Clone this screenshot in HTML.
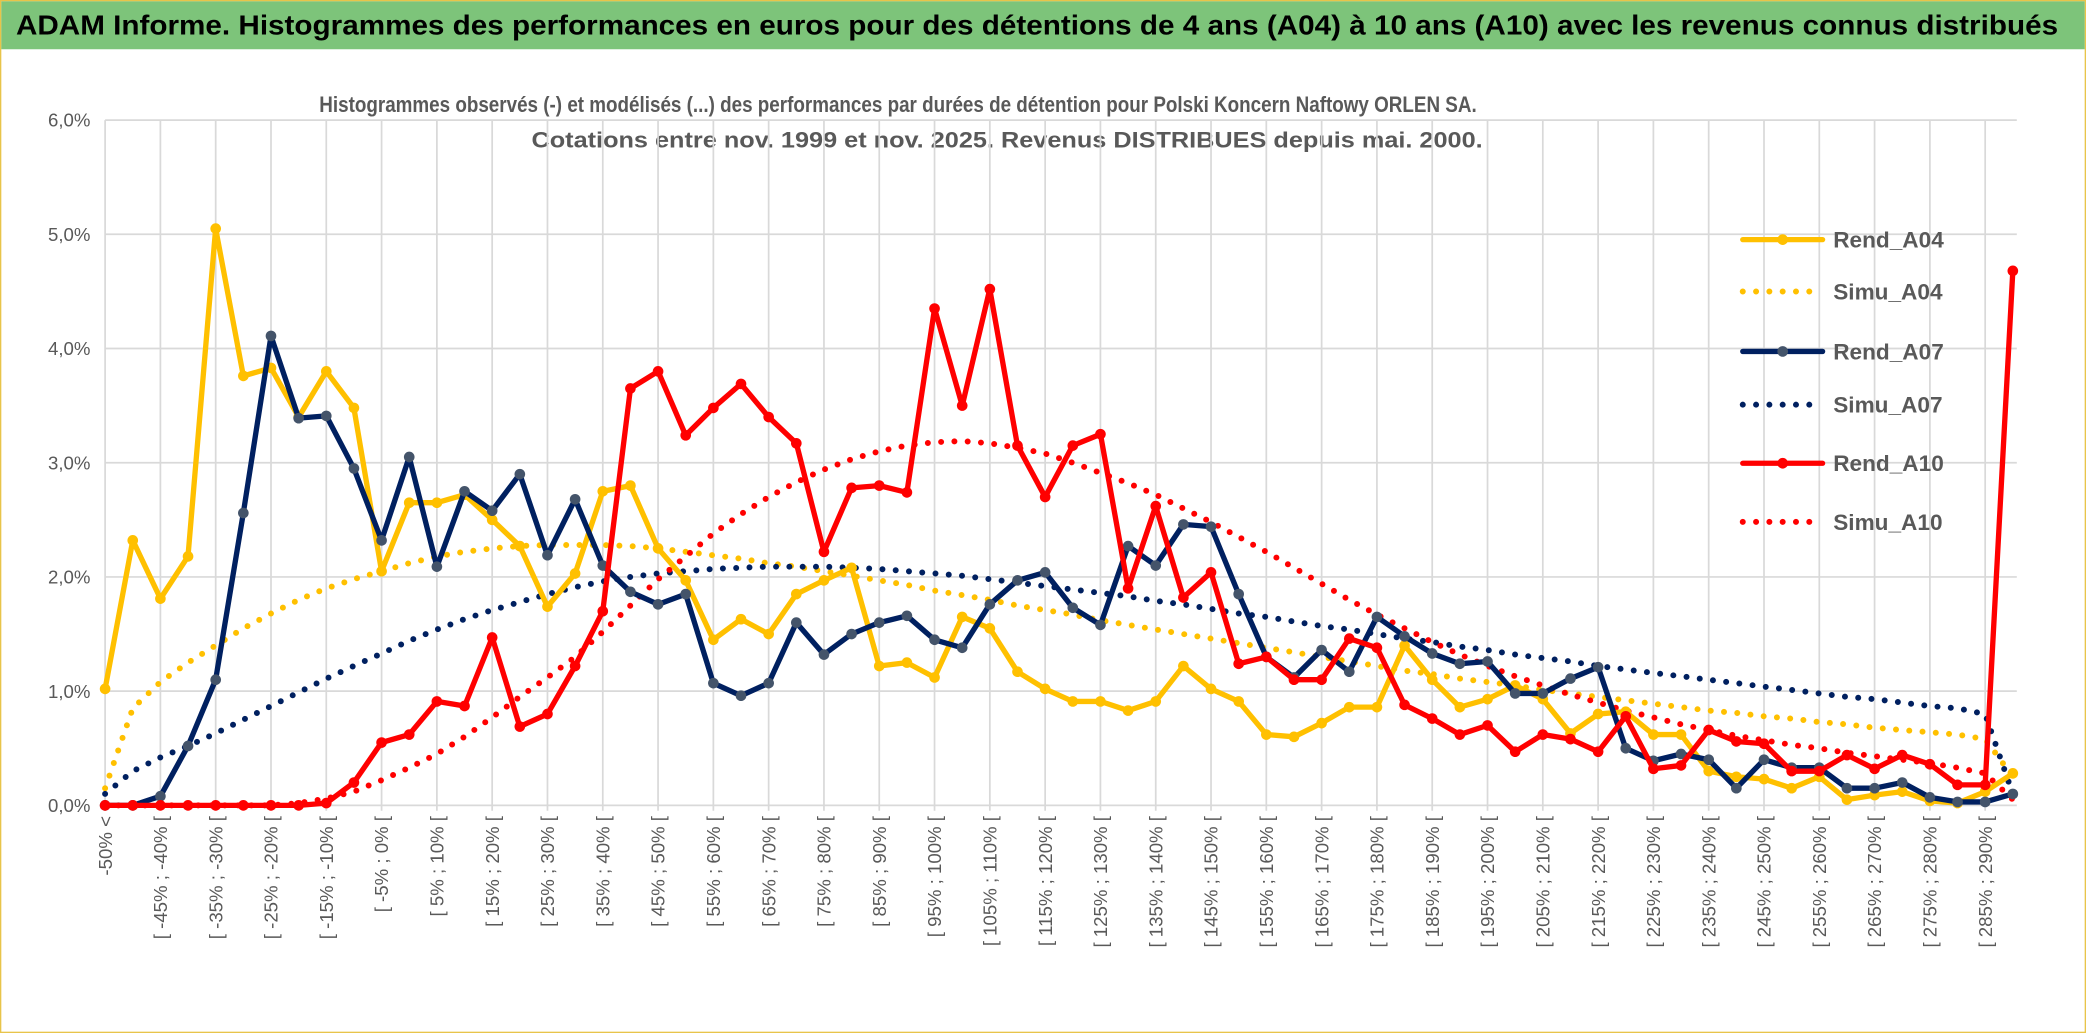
<!DOCTYPE html>
<html><head><meta charset="utf-8">
<style>
html,body{margin:0;padding:0;background:#fff;}
svg{display:block;font-family:"Liberation Sans",sans-serif;}
</style></head>
<body>
<svg id="chart" width="2086" height="1033" viewBox="0 0 1568 776" preserveAspectRatio="none" xmlns="http://www.w3.org/2000/svg">
<rect x="0" y="0" width="1568" height="776" fill="#fff" stroke="#e8c44a" stroke-width="2"/>
<rect x="1" y="1" width="1566" height="36" fill="#7dc47a"/>
<text x="12" y="26" font-size="21" font-weight="bold" fill="#000" textLength="1535" lengthAdjust="spacingAndGlyphs">ADAM Informe. Histogrammes des performances en euros pour des détentions de 4 ans (A04) à 10 ans (A10) avec les revenus connus distribués</text>
<text x="675" y="84" font-size="17" font-weight="bold" fill="#595959" text-anchor="middle" textLength="870" lengthAdjust="spacingAndGlyphs">Histogrammes observés (-) et modélisés (...) des performances par durées de détention pour Polski Koncern Naftowy ORLEN SA.</text>
<text x="757" y="111" font-size="17" font-weight="bold" fill="#595959" text-anchor="middle" textLength="715" lengthAdjust="spacingAndGlyphs">Cotations entre nov. 1999 et nov. 2025. Revenus DISTRIBUES depuis mai. 2000.</text>
<g id="grid"></g><g id="axes"></g><g id="series"></g><g id="legend"></g>
</svg>
<script>
const yTicks = ["0,0%","1,0%","2,0%","3,0%","4,0%","5,0%","6,0%"];
const rendA04 = [1.02,2.32,1.81,2.18,5.05,3.76,3.83,3.40,3.80,3.48,2.05,2.65,2.65,2.72,2.50,2.27,1.74,2.03,2.75,2.80,2.25,1.97,1.45,1.63,1.50,1.85,1.97,2.08,1.22,1.25,1.12,1.65,1.55,1.17,1.02,0.91,0.91,0.83,0.91,1.22,1.02,0.91,0.62,0.60,0.72,0.86,0.86,1.40,1.10,0.86,0.93,1.05,0.93,0.63,0.80,0.82,0.62,0.62,0.30,0.25,0.23,0.15,0.25,0.05,0.09,0.12,0.04,0.02,0.12,0.28];
const simuA04 = [0.15,0.85,1.08,1.25,1.40,1.55,1.68,1.80,1.90,1.98,2.05,2.12,2.18,2.22,2.25,2.27,2.28,2.28,2.28,2.27,2.25,2.22,2.19,2.16,2.12,2.09,2.05,2.01,1.97,1.93,1.88,1.84,1.80,1.75,1.71,1.67,1.62,1.58,1.54,1.50,1.46,1.42,1.38,1.34,1.30,1.26,1.22,1.18,1.15,1.11,1.08,1.05,1.01,0.98,0.95,0.92,0.89,0.86,0.83,0.81,0.78,0.76,0.73,0.71,0.68,0.66,0.64,0.62,0.58,0.25];
const rendA07 = [0,0,0.08,0.52,1.10,2.56,4.11,3.39,3.41,2.95,2.32,3.05,2.09,2.75,2.58,2.90,2.19,2.68,2.10,1.87,1.76,1.85,1.07,0.96,1.07,1.60,1.32,1.50,1.60,1.66,1.45,1.38,1.76,1.97,2.04,1.73,1.58,2.27,2.10,2.46,2.44,1.85,1.30,1.12,1.36,1.17,1.65,1.48,1.33,1.24,1.26,0.98,0.98,1.11,1.21,0.50,0.39,0.45,0.40,0.15,0.40,0.33,0.33,0.15,0.15,0.20,0.07,0.03,0.03,0.10];
const simuA07 = [0.10,0.30,0.42,0.52,0.63,0.75,0.87,0.99,1.11,1.22,1.33,1.44,1.54,1.63,1.71,1.78,1.85,1.91,1.96,2.00,2.03,2.05,2.07,2.08,2.09,2.09,2.09,2.08,2.07,2.05,2.03,2.01,1.98,1.95,1.92,1.89,1.86,1.83,1.79,1.76,1.72,1.68,1.65,1.61,1.57,1.54,1.50,1.46,1.43,1.39,1.36,1.32,1.29,1.26,1.22,1.19,1.16,1.13,1.10,1.07,1.04,1.01,0.98,0.95,0.93,0.90,0.87,0.85,0.80,0.10];
const rendA10 = [0,0,0,0,0,0,0,0,0.02,0.20,0.55,0.62,0.91,0.87,1.47,0.69,0.80,1.22,1.70,3.65,3.80,3.24,3.48,3.69,3.40,3.17,2.22,2.78,2.80,2.74,4.35,3.50,4.52,3.15,2.70,3.15,3.25,1.90,2.62,1.82,2.04,1.24,1.30,1.10,1.10,1.46,1.38,0.88,0.76,0.62,0.70,0.47,0.62,0.58,0.47,0.78,0.32,0.35,0.66,0.56,0.54,0.30,0.30,0.44,0.32,0.44,0.36,0.18,0.18,4.68];
const simuA10 = [0,0,0,0,0,0,0,0.02,0.06,0.12,0.22,0.33,0.45,0.60,0.77,0.95,1.12,1.30,1.52,1.75,1.98,2.18,2.38,2.55,2.70,2.83,2.94,3.03,3.10,3.15,3.18,3.19,3.17,3.13,3.08,3.00,2.91,2.82,2.72,2.60,2.48,2.35,2.22,2.08,1.94,1.80,1.67,1.55,1.43,1.32,1.22,1.13,1.05,0.97,0.90,0.83,0.77,0.71,0.66,0.61,0.57,0.53,0.50,0.46,0.43,0.40,0.37,0.33,0.28,0.05];
const categories = ["-50% <"];
for (let lo = -50; lo < 295; lo += 5) categories.push("[ " + lo + "% ; " + (lo + 5) + "% [");

const NS = "http://www.w3.org/2000/svg";
const X0 = 79, X1 = 1513, Y0 = 605, PX1 = 85.8;
const xs = i => X0 + i * (X1 - X0) / (categories.length - 1);
const ys = v => Y0 - v * PX1;
function mk(tag, attrs, parent) {
  const e = document.createElementNS(NS, tag);
  for (const k in attrs) e.setAttribute(k, attrs[k]);
  parent.appendChild(e);
  return e;
}
const grid = document.getElementById('grid'), axes = document.getElementById('axes'),
      series = document.getElementById('series'), legend = document.getElementById('legend');

yTicks.forEach((t, k) => {
  const y = ys(k);
  const l = mk('line', {x1: X0, x2: X1 + 3, y1: y, y2: y, stroke: '#d9d9d9', 'stroke-width': 1.3}, grid);
  
  
  const tx = mk('text', {x: 68, y: y + 5, 'font-size': 14, fill: '#595959', 'text-anchor': 'end'}, axes);
  tx.textContent = t;
  
  
});
categories.forEach((c, i) => {
  if (i % 2 !== 0) return;
  const x = xs(i);
  const l = mk('line', {x1: x, x2: x, y1: ys(6), y2: Y0 + 4, stroke: '#d9d9d9', 'stroke-width': 1.3}, grid);
  
  
  const tx = mk('text', {x: 0, y: 0, 'font-size': 14, fill: '#595959', 'text-anchor': 'end',
    transform: 'translate(' + (x + 5) + ',' + (Y0 + 8) + ') rotate(-90)'}, axes);
  tx.textContent = c;
  
  
});

function pts(arr) { return arr.map((v, i) => xs(i).toFixed(1) + ',' + ys(v).toFixed(1)).join(' '); }
function dotted(arr, color, name) {
  const p = mk('polyline', {points: pts(arr), fill: 'none', stroke: color, 'stroke-width': 4.5,
    'stroke-linecap': 'round', 'stroke-dasharray': '0 10'}, series);
  
  
}
function solid(arr, color, mcolor, name) {
  const p = mk('polyline', {points: pts(arr), fill: 'none', stroke: color, 'stroke-width': 4, 'stroke-linejoin': 'round'}, series);
  
  
  arr.forEach((v, i) => {
    const c = mk('circle', {cx: xs(i), cy: ys(v), r: 4, fill: mcolor}, series);
    
    
  });
}
dotted(simuA04, '#ffc000', 'simu-a04-line');
dotted(simuA07, '#002060', 'simu-a07-line');
dotted(simuA10, '#ff0000', 'simu-a10-line');
solid(rendA04, '#ffc000', '#ffc000', 'rend-a04-line');
solid(rendA07, '#002060', '#44546a', 'rend-a07-line');
solid(rendA10, '#ff0000', '#ff0000', 'rend-a10-line');

const legendItems = [
  ['Rend_A04', '#ffc000', false, 180], ['Simu_A04', '#ffc000', true, 219],
  ['Rend_A07', '#002060', false, 264], ['Simu_A07', '#002060', true, 304],
  ['Rend_A10', '#ff0000', false, 348], ['Simu_A10', '#ff0000', true, 392]];
legendItems.forEach(([lab, col, dot, y]) => {
  const g = mk('g', {}, legend);
  
  
  const ln = mk('line', {x1: 1310, x2: 1370, y1: y, y2: y, stroke: col, 'stroke-width': dot ? 4.5 : 4,
    'stroke-linecap': 'round', 'stroke-dasharray': dot ? '0 10' : 'none'}, g);
  
  
  if (!dot) {
    const c = mk('circle', {cx: 1340, cy: y, r: 4, fill: col === '#002060' ? '#44546a' : col}, g);
    
    
  }
  const t = mk('text', {x: 1378, y: y + 6, 'font-size': 17, 'font-weight': 'bold', fill: '#595959'}, g);
  t.textContent = lab;
  
  
});
</script>
</body></html>
